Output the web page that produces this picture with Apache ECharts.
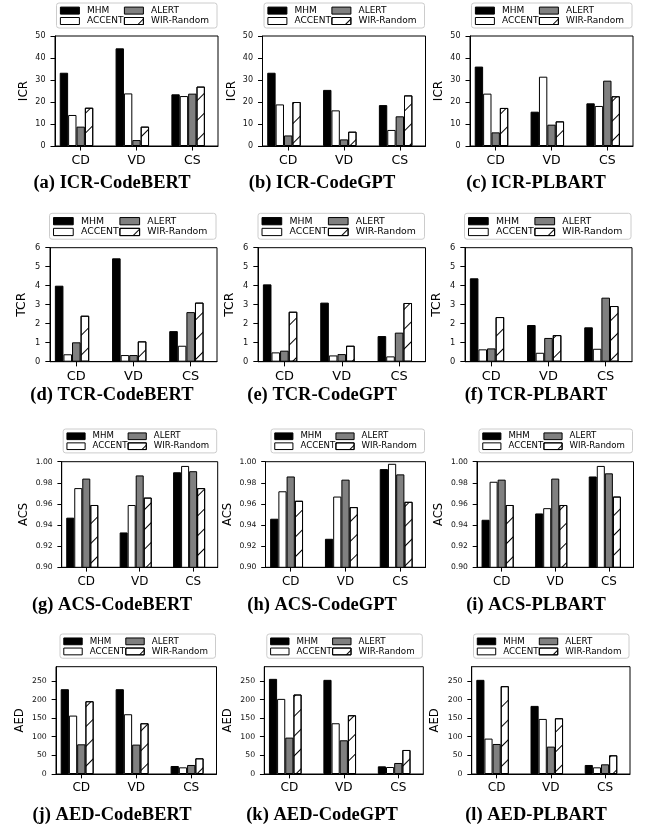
<!DOCTYPE html>
<html>
<head>
<meta charset="utf-8">
<script src="https://cdn.jsdelivr.net/npm/echarts@6/dist/echarts.min.js"></script>
<style>
  html, body { margin: 0; padding: 0; background: #fff; }
  #chart { width: 646px; height: 836px; }
</style>
</head>
<body>
<div id="chart"></div>
<script>
// ---- data ---------------------------------------------------------------
const categories = ['CD', 'VD', 'CS'];
const methods = ['MHM', 'ACCENT', 'ALERT', 'WIR-Random'];

// each table: one row per method (MHM, ACCENT, ALERT, WIR-Random), columns CD, VD, CS
const icrCodeBERT = [[33.3, 44.4, 23.5], [14.1, 23.9, 22.7], [8.8, 2.7, 23.8], [17.4, 8.8, 27.0]];
const icrCodeGPT  = [[33.3, 25.5, 18.6], [18.9, 16.2, 7.3], [4.8, 3.0, 13.5], [20.0, 6.5, 23.0]];
const icrPLBART   = [[36.1, 15.6, 19.4], [23.8, 31.5, 18.2], [6.2, 9.7, 29.7], [17.3, 11.2, 22.6]];

const tcrCodeBERT = [[4.00, 5.44, 1.61], [0.39, 0.35, 0.84], [1.02, 0.35, 2.61], [2.42, 1.07, 3.11]];
const tcrCodeGPT  = [[4.07, 3.11, 1.35], [0.49, 0.33, 0.28], [0.58, 0.40, 1.53], [2.63, 0.84, 3.09]];
const tcrPLBART   = [[4.39, 1.93, 1.81], [0.65, 0.47, 0.68], [0.70, 1.25, 3.37], [2.35, 1.40, 2.93]];

const acsCodeBERT = [[0.947, 0.933, 0.990], [0.975, 0.959, 0.996], [0.984, 0.987, 0.991], [0.959, 0.966, 0.975]];
const acsCodeGPT  = [[0.946, 0.927, 0.993], [0.972, 0.967, 0.998], [0.986, 0.983, 0.988], [0.963, 0.957, 0.962]];
const acsPLBART   = [[0.945, 0.951, 0.986], [0.981, 0.956, 0.996], [0.983, 0.984, 0.989], [0.959, 0.959, 0.967]];

const aedCodeBERT = [[227.6, 227.6, 21.5], [156.8, 160.4, 17.9], [79.7, 78.9, 24.2], [195.3, 136.2, 42.1]];
const aedCodeGPT  = [[255.4, 252.7, 20.6], [201.6, 136.2, 18.8], [97.7, 90.5, 29.6], [213.3, 157.7, 64.5]];
const aedPLBART   = [[252.7, 182.8, 24.2], [95.0, 147.8, 17.9], [80.6, 73.5, 26.0], [235.7, 149.6, 50.2]];

// tick labels of each metric's y axis
const icrTicks = [0, 10, 20, 30, 40, 50];
const tcrTicks = [0, 1, 2, 3, 4, 5, 6];
const acsTicks = [0.90, 0.92, 0.94, 0.96, 0.98, 1.00];
const aedTicks = [0, 50, 100, 150, 200, 250];

// ---- layout -------------------------------------------------------------
const rows = [
  { metric: 'ICR', ticks: icrTicks, min: 0, max: 50, digits: 0, top: 36, height: 110, s: 1.0,
    tables: [icrCodeBERT, icrCodeGPT, icrPLBART], grids: [[55, 163], [262.5, 163], [470, 163]],
    legendTop: 3, legendW: 160.5, nameDist: 31, captionY: 183 },
  { metric: 'TCR', ticks: tcrTicks, min: 0, max: 6, digits: 0, top: 247.7, height: 114, s: 1.037,
    tables: [tcrCodeBERT, tcrCodeGPT, tcrPLBART], grids: [[50, 167], [258, 167.5], [465, 167]],
    legendTop: 213.3, legendW: 166.5, nameDist: 28, captionY: 395 },
  { metric: 'ACS', ticks: acsTicks, min: 0.9, max: 1.0, digits: 2, top: 461.7, height: 105.6, s: 0.956,
    tables: [acsCodeBERT, acsCodeGPT, acsPLBART], grids: [[61.7, 156], [265.5, 160], [477, 156.5]],
    legendTop: 429, legendW: 153.5, nameDist: 38, captionY: 605 },
  { metric: 'AED', ticks: aedTicks, min: 0, max: 288, digits: 0, top: 666.7, height: 107.3, s: 0.969,
    tables: [aedCodeBERT, aedCodeGPT, aedPLBART], grids: [[56, 160.5], [264.3, 159], [471.7, 158.3]],
    legendTop: 634, legendW: 155.5, nameDist: 36.3, captionY: 815 }
];
const models = ['CodeBERT', 'CodeGPT', 'PLBART'];
const captionX = [112, 322, 536];
const tags = 'abcdefghijkl';

// bar centres relative to each category tick, and bar width, in axis units
const barOffsets = [-0.3, -0.15, 0, 0.15];
const barUnit = 0.15;
const xMin = -0.46, xMax = 2.46;

const FONT = 'DejaVu Sans';

const hatch = {
  symbol: 'rect', symbolSize: 1,
  dashArrayX: [1, 0], dashArrayY: [1, 12.4],
  rotation: -Math.PI / 4,
  color: '#000'
};
const barStyles = [
  { color: '#000000', borderColor: '#000', borderWidth: 1 },
  { color: '#ffffff', borderColor: '#000', borderWidth: 1 },
  { color: '#808080', borderColor: '#000', borderWidth: 1 },
  { color: '#ffffff', borderColor: '#000', borderWidth: 1, decal: hatch }
];

const grid = [], xAxis = [], yAxis = [], series = [], legend = [], graphic = [];

rows.forEach((row, r) => {
  const s = row.s;
  row.grids.forEach(([left, width], c) => {
    const p = r * 3 + c;
    const table = row.tables[c];
    grid.push({
      left: left, top: row.top, width: width, height: row.height,
      show: true, borderColor: '#000', borderWidth: 1, backgroundColor: 'transparent',
      containLabel: false, outerBoundsMode: 'none'
    });
    xAxis.push({
      type: 'value', gridIndex: p, min: xMin, max: xMax,
      axisLine: { show: true, onZero: false, lineStyle: { color: '#000', width: 1 } },
      axisTick: { show: true, customValues: [0, 1, 2], length: 4.5 * s, lineStyle: { color: '#000' } },
      axisLabel: {
        customValues: [0, 1, 2], formatter: v => categories[Math.round(v)],
        fontFamily: FONT, fontSize: 12.5 * s, color: '#000', margin: 8.5 * s
      },
      splitLine: { show: false }
    });
    yAxis.push({
      type: 'value', gridIndex: p, min: row.min, max: row.max,
      name: row.metric, nameLocation: 'middle', nameGap: row.nameDist - 6 * s, nameMoveOverlap: false,
      nameTextStyle: { fontFamily: FONT, fontSize: 12 * s, color: '#000' },
      axisLine: { show: true, onZero: false, lineStyle: { color: '#000', width: 1 } },
      axisTick: { show: true, customValues: row.ticks, length: 4.5 * s, lineStyle: { color: '#000' } },
      axisLabel: {
        customValues: row.ticks, formatter: v => Number(v).toFixed(row.digits),
        fontFamily: FONT, fontSize: 8 * s, color: '#111', margin: 9.5 * s
      },
      splitLine: { show: false }
    });
    const barPx = barUnit * width / (xMax - xMin);
    methods.forEach((m, k) => {
      series.push({
        type: 'bar', name: m, xAxisIndex: p, yAxisIndex: p,
        data: table[k].map((v, i) => [i + barOffsets[k], v]),
        barWidth: barPx, barGap: '-100%',
        itemStyle: barStyles[k], silent: true, animation: false, clip: true
      });
    });

    // legend frame and entries (two columns, two rows)
    const boxRight = left + width - 1;
    const boxLeft = boxRight - row.legendW;
    const boxTop = row.legendTop;
    graphic.push({
      type: 'rect', z: 1,
      shape: { x: boxLeft, y: boxTop, width: row.legendW, height: 25 * s, r: 2.5 },
      style: { fill: 'rgba(255,255,255,0.8)', stroke: '#cccccc', lineWidth: 1 }
    });
    const colX = [3.4 * s, 67.4 * s];
    const rowY = [7.6 * s, 18 * s];
    const order = [[0, 0], [0, 1], [1, 0], [1, 1]]; // [col,row] for MHM, ACCENT, ALERT, WIR-Random
    methods.forEach((m, k) => {
      const [cc, rr] = order[k];
      legend.push({
        show: true, data: [m], icon: 'rect', selectedMode: false, z: 5,
        left: boxLeft + colX[cc], top: boxTop + rowY[rr] - 5 * s,
        padding: 0, itemGap: 0, itemWidth: 19 * s, itemHeight: 7 * s,
        itemStyle: { borderColor: '#000', borderWidth: 1 },
        textStyle: { fontFamily: FONT, fontSize: 9 * s, color: '#000', lineHeight: 10 * s, padding: [0, 0, 0, 2.6 * s] }
      });
    });

    graphic.push({
      type: 'text', x: captionX[c], y: row.captionY, z: 1,
      style: {
        text: '(' + tags[p] + ') ' + row.metric + '-' + models[c],
        fontFamily: 'Liberation Serif', fontWeight: 'bold', fontSize: 18.5,
        fill: '#000', align: 'center', verticalAlign: 'middle'
      }
    });
  });
});

const chart = echarts.init(document.getElementById('chart'), null, { renderer: 'canvas' });
chart.setOption({
  animation: false,
  backgroundColor: '#fff',
  grid, xAxis, yAxis, series, legend, graphic
});
</script>
</body>
</html>
